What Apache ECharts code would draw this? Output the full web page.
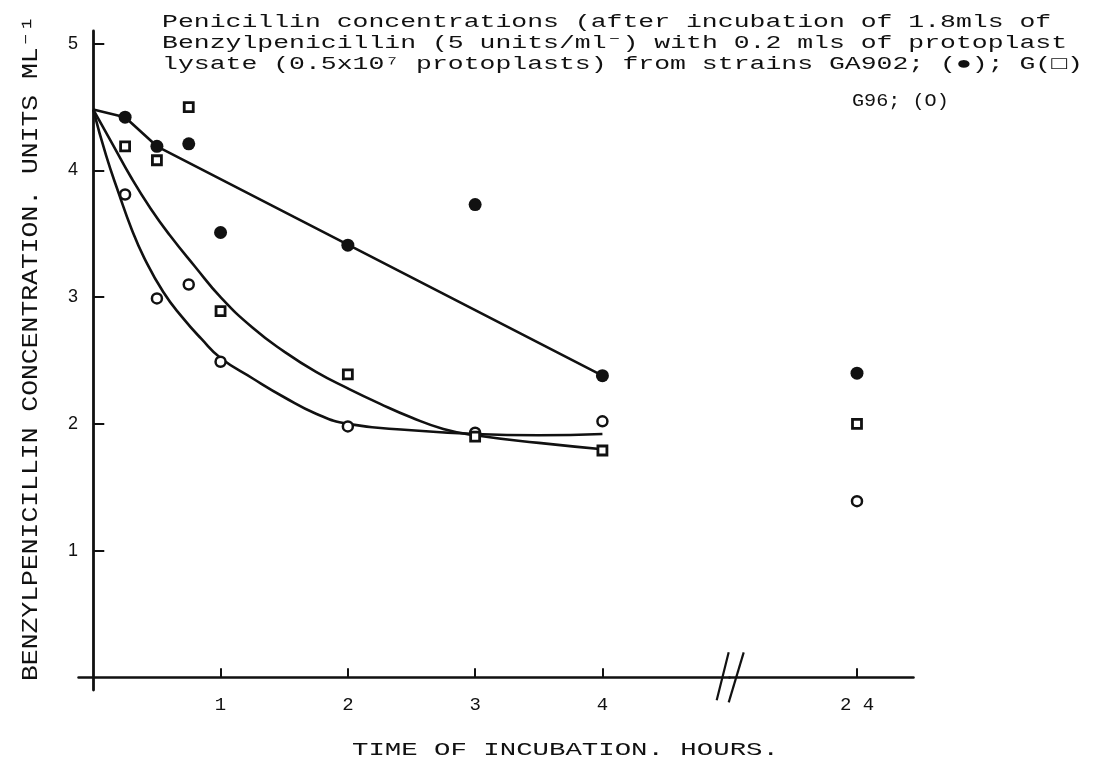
<!DOCTYPE html>
<html>
<head>
<meta charset="utf-8">
<title>Penicillin concentrations</title>
<script src="https://cdn.jsdelivr.net/npm/echarts@6.0.0/dist/echarts.min.js"></script>
<style>
  html, body { margin: 0; padding: 0; background: #fff; }
  #chart { width: 1097px; height: 762px; }
</style>
</head>
<body>
<div id="chart"></div>
<script>
// measured points (hours, units/ml)
const hoursGA902 = [0.25, 0.5, 0.75, 1, 2, 3, 4, 24]
const valuesGA902 = [4.42, 4.19, 4.21, 3.51, 3.41, 3.73, 2.38, 2.40]
const hoursG = [0.25, 0.5, 0.75, 1, 2, 3, 4, 24]
const valuesG = [4.19, 4.08, 4.50, 2.89, 2.39, 1.90, 1.79, 2.00]
const hoursG96 = [0.25, 0.5, 0.75, 1, 2, 3, 4, 24]
const valuesG96 = [3.81, 2.99, 3.10, 2.49, 1.98, 1.93, 2.02, 1.39]

// hand drawn curves
const fitHoursGA902 = [0, 0.25, 0.5, 4]
const fitValuesGA902 = [4.48, 4.42, 4.19, 2.38]
const fitHoursG = [0, 0.15, 0.3, 0.45, 0.6, 0.8, 1.0, 1.25, 1.5, 1.75, 2.0, 2.25, 2.5, 2.75, 3.0, 3.5, 4.0]
const fitValuesG = [4.48, 4.21, 3.94, 3.70, 3.49, 3.24, 3.00, 2.76, 2.57, 2.41, 2.28, 2.16, 2.05, 1.96, 1.91, 1.85, 1.80]
const fitHoursG96 = [0, 0.1, 0.2, 0.3, 0.4, 0.55, 0.7, 0.85, 1.0, 1.25, 1.5, 1.75, 2.0, 2.5, 3.0, 3.5, 4.0]
const fitValuesG96 = [4.48, 4.12, 3.82, 3.54, 3.31, 3.04, 2.84, 2.67, 2.52, 2.36, 2.21, 2.08, 2.00, 1.95, 1.92, 1.91, 1.92]

const xTickValues = [1, 2, 3, 4, 24]
const xTickLabels = ['1', '2', '3', '4', '2 4']
const yTickValues = [1, 2, 3, 4, 5]

const titleLines = [
  'Penicillin concentrations (after incubation of 1.8mls of',
  'Benzylpenicillin (5 units/ml⁻) with 0.2 mls of protoplast',
  'lysate (0.5x10⁷ protoplasts) from strains GA902; (●); G(□)',
]
const titleLastLine = 'G96; (O)'
const yName = 'BENZYLPENICILLIN CONCENTRATION. UNITS ML⁻¹'
const xName = 'TIME OF INCUBATION. HOURS.'

const ink = '#111'
const mono = '"Liberation Mono", "DejaVu Sans Mono", monospace'

function zip(xs, ys) {
  return xs.map((x, i) => [x, ys[i]])
}

const chart = echarts.init(document.getElementById('chart'))

function fitLine(xs, ys, smooth) {
  return {
    type: 'line',
    data: zip(xs, ys),
    smooth: smooth,
    symbol: 'none',
    silent: true,
    lineStyle: { color: ink, width: 2.6 },
    z: 2,
  }
}

const option = {
  animation: false,
  backgroundColor: '#fff',
  grid: { left: 78, right: 184, top: 31, bottom: 72 },
  xAxis: {
    type: 'value',
    min: -0.12,
    max: 24.44,
    breaks: [{ start: 5, end: 23, gap: 0 }],
    breakArea: { show: false },
    axisLine: { onZero: true, lineStyle: { color: ink, width: 2.5 } },
    axisTick: { show: true, inside: true, length: 9, customValues: xTickValues, lineStyle: { color: ink, width: 2 } },
    axisLabel: {
      customValues: xTickValues,
      formatter: (v) => xTickLabels[xTickValues.indexOf(v)],
      margin: 5,
      fontFamily: mono,
      fontSize: 19,
      color: ink,
    },
    splitLine: { show: false },
  },
  yAxis: {
    type: 'value',
    min: -0.1,
    max: 5.1,
    axisLine: { show: true, onZero: true, lineStyle: { color: ink, width: 2.8 } },
    axisTick: { show: true, inside: true, length: 11, customValues: yTickValues, lineStyle: { color: ink, width: 2 } },
    axisLabel: {
      customValues: yTickValues,
      margin: 0,
      fontFamily: '"Liberation Sans", Arial, sans-serif',
      fontSize: 18,
      color: ink,
    },
    splitLine: { show: false },
  },
  series: [
    fitLine(fitHoursGA902, fitValuesGA902, false),
    fitLine(fitHoursG, fitValuesG, 0.5),
    fitLine(fitHoursG96, fitValuesG96, 0.5),
    {
      name: 'GA902',
      type: 'scatter',
      data: zip(hoursGA902, valuesGA902),
      symbol: 'circle',
      symbolSize: 13,
      itemStyle: { color: ink, opacity: 1 },
      z: 5,
    },
    {
      name: 'G96',
      type: 'scatter',
      data: zip(hoursG96, valuesG96),
      symbol: 'circle',
      symbolSize: 10,
      itemStyle: { color: '#fff', borderColor: ink, borderWidth: 2.5, opacity: 1 },
      z: 5,
    },
    {
      name: 'G',
      type: 'scatter',
      data: zip(hoursG, valuesG),
      symbol: 'rect',
      symbolSize: 9,
      itemStyle: { color: '#fff', borderColor: ink, borderWidth: 2.8, opacity: 1 },
      z: 6,
    },
  ],
}

chart.setOption(option)

// texts and the axis break mark
const bx = chart.convertToPixel({ xAxisIndex: 0 }, 5)
const ay = chart.convertToPixel({ yAxisIndex: 0 }, 0)

const graphics = titleLines.map((t, i) => ({
  type: 'text',
  x: 162,
  y: 22 + i * 21,
  scaleX: 1.47,
  style: { text: t, font: '18px ' + mono, fill: ink, textAlign: 'left', textVerticalAlign: 'middle' },
}))
graphics.push({
  type: 'text',
  x: 852,
  y: 101,
  scaleX: 1.12,
  style: { text: titleLastLine, font: '18px ' + mono, fill: ink, textAlign: 'left', textVerticalAlign: 'middle' },
})
graphics.push({
  type: 'text',
  x: 31,
  y: 681,
  rotation: Math.PI / 2,
  scaleX: 1.2,
  style: { text: yName, font: '22px ' + mono, fill: ink, textAlign: 'left', textVerticalAlign: 'middle' },
})
graphics.push({
  type: 'text',
  x: 352,
  y: 750,
  scaleX: 1.44,
  style: { text: xName, font: '19px ' + mono, fill: ink, textAlign: 'left', textVerticalAlign: 'middle' },
})
graphics.push(
  { type: 'line', shape: { x1: bx - 13, y1: ay + 23, x2: bx - 1, y2: ay - 25 }, style: { stroke: ink, lineWidth: 2.2 } },
  { type: 'line', shape: { x1: bx - 1, y1: ay + 25, x2: bx + 14, y2: ay - 25 }, style: { stroke: ink, lineWidth: 2.2 } }
)

chart.setOption({ graphic: graphics })
</script>
</body>
</html>
